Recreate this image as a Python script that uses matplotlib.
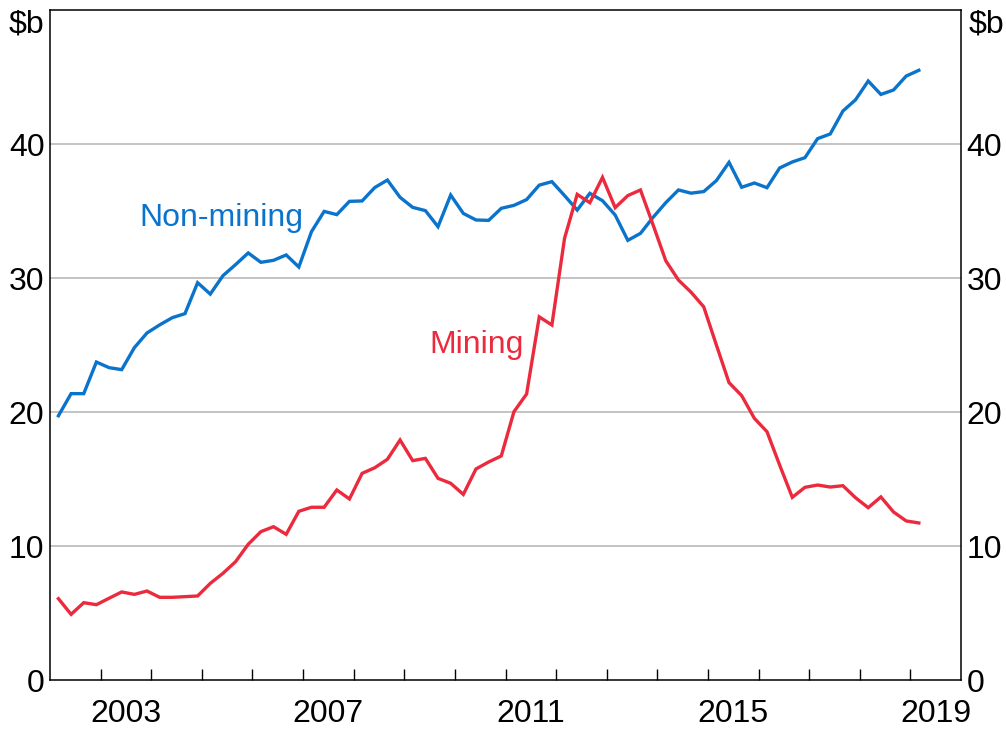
import matplotlib
matplotlib.use("Agg")
import matplotlib.pyplot as plt
from matplotlib.ticker import FixedLocator, NullFormatter, FixedFormatter
import pandas as pd

plt.rcParams['font.family'] = ['Liberation Sans', 'DejaVu Sans']

# Quarterly, 2002Q1 - 2019Q1, $b
quarters = pd.period_range('2002Q1', '2019Q1', freq='Q')

non_mining = [19.72, 21.37, 21.37, 23.73, 23.31, 23.16, 24.80, 25.90, 26.50, 27.04,
              27.34, 29.65, 28.80, 30.17, 31.00, 31.87, 31.17, 31.32, 31.72, 30.82,
              33.46, 34.97, 34.73, 35.72, 35.75, 36.75, 37.31, 36.02, 35.27, 35.03,
              33.83, 36.19, 34.82, 34.33, 34.30, 35.20, 35.42, 35.85, 36.93, 37.19,
              36.15, 35.07, 36.32, 35.77, 34.70, 32.81, 33.33, 34.53, 35.62, 36.57,
              36.33, 36.45, 37.27, 38.63, 36.77, 37.09, 36.74, 38.21, 38.66, 38.98,
              40.40, 40.75, 42.46, 43.30, 44.70, 43.70, 44.03, 45.07, 45.50]

mining = [6.07, 4.90, 5.77, 5.62, 6.10, 6.57, 6.39, 6.64, 6.17, 6.17,
          6.22, 6.27, 7.21, 7.96, 8.83, 10.13, 11.07, 11.44, 10.87, 12.59,
          12.89, 12.89, 14.18, 13.51, 15.42, 15.84, 16.47, 17.91, 16.37, 16.54,
          15.05, 14.68, 13.85, 15.75, 16.27, 16.72, 20.02, 21.34, 27.10, 26.49,
          32.96, 36.24, 35.62, 37.51, 35.25, 36.15, 36.57, 33.96, 31.29, 29.85,
          28.94, 27.85, 25.00, 22.19, 21.22, 19.53, 18.53, 16.04, 13.63, 14.38,
          14.55, 14.40, 14.50, 13.60, 12.86, 13.66, 12.54, 11.87, 11.72]

y_ticks = [0, 10, 20, 30, 40]
year_ticks = list(range(2003, 2020))
year_labels = ['2003', '2007', '2011', '2015', '2019']

BLUE = '#0a73cc'
RED = '#ec2a3d'
FS = 23

x = [p.year + (p.quarter - 1) / 4 + 1 / 6 for p in quarters]

fig = plt.figure(figsize=(10.06, 7.31), dpi=100)
ax = fig.add_axes([50 / 1006, 51 / 731, 911 / 1006, 670 / 731])

ax.plot(x, non_mining, color=BLUE, lw=2.4, solid_joinstyle='miter', zorder=3)
ax.plot(x, mining, color=RED, lw=2.4, solid_joinstyle='miter', zorder=3)

ax.set_xlim(2002, 2020)
ax.set_ylim(0, 50)

for v in y_ticks[1:]:
    ax.axhline(v, color='#b9b9b9', lw=1.2, zorder=1)

ax.set_yticks(y_ticks)
ax.tick_params(axis='y', which='both', length=0, labelsize=FS, pad=4,
               left=False, right=False, labelleft=True, labelright=True)

ax.xaxis.set_major_locator(FixedLocator(year_ticks))
ax.xaxis.set_major_formatter(NullFormatter())
ax.xaxis.set_minor_locator(FixedLocator([int(y) + 0.5 for y in year_labels]))
ax.xaxis.set_minor_formatter(FixedFormatter(year_labels))
ax.tick_params(axis='x', which='major', direction='in', length=8, width=1.0,
               color='black', top=False)
ax.tick_params(axis='x', which='minor', length=0, labelsize=FS, pad=14)

for s in ax.spines.values():
    s.set_linewidth(1.1)
    s.set_color('black')

ax.text(-0.006, 48.9, '$b', transform=ax.get_yaxis_transform(), ha='right',
        va='center', fontsize=FS)
ax.text(1.008, 48.9, '$b', transform=ax.get_yaxis_transform(), ha='left',
        va='center', fontsize=FS)

ax.text(2003.77, 34.5, 'Non-mining', color=BLUE, fontsize=FS, ha='left', va='center')
ax.text(2009.5, 25.0, 'Mining', color=RED, fontsize=FS, ha='left', va='center')

fig.savefig('out.png', dpi=100)
